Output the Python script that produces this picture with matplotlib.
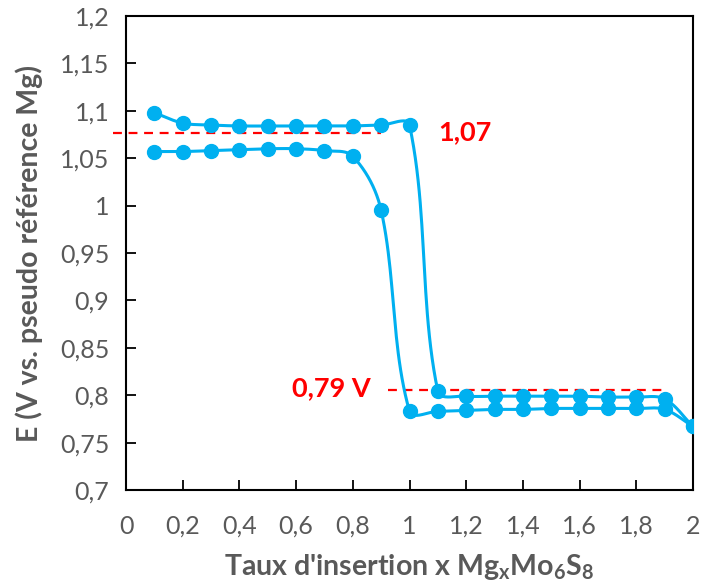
import numpy as np
import matplotlib.pyplot as plt

# lower branch (insertion), x = 0.1 .. 2.0
x_low = [0.1, 0.2, 0.3, 0.4, 0.5, 0.6, 0.7, 0.8, 0.9, 1.0,
         1.1, 1.2, 1.3, 1.4, 1.5, 1.6, 1.7, 1.8, 1.9, 2.0]
e_low = [1.057, 1.057, 1.058, 1.059, 1.060, 1.060, 1.058, 1.052, 0.995, 0.783,
         0.783, 0.784, 0.785, 0.785, 0.786, 0.786, 0.786, 0.786, 0.785, 0.767]

# upper branch (extraction), x = 0.1 .. 2.0
x_up = [0.1, 0.2, 0.3, 0.4, 0.5, 0.6, 0.7, 0.8, 0.9, 1.0,
        1.1, 1.2, 1.3, 1.4, 1.5, 1.6, 1.7, 1.8, 1.9, 2.0]
e_up = [1.098, 1.087, 1.085, 1.084, 1.084, 1.084, 1.084, 1.084, 1.085, 1.085,
        0.804, 0.799, 0.799, 0.799, 0.799, 0.799, 0.798, 0.798, 0.796, 0.767]

plateau_hi = 1.077
plateau_lo = 0.806

x_ticks = [0, 0.2, 0.4, 0.6, 0.8, 1, 1.2, 1.4, 1.6, 1.8, 2]
y_ticks = [0.7, 0.75, 0.8, 0.85, 0.9, 0.95, 1, 1.05, 1.1, 1.15, 1.2]

blue = '#00B0F0'
grey = '#595959'


def smooth(x, y, sx=283.5, sy=948.0, n=24):
    # Excel-like smoothed line: cubic Bezier, tangent along neighbours,
    # scaled by segment length in screen space (no big overshoot)
    p = np.column_stack([np.asarray(x) * sx, np.asarray(y) * sy])
    m = len(p)
    tang = np.zeros_like(p)
    for i in range(m):
        a = p[max(i - 1, 0)]
        b = p[min(i + 1, m - 1)]
        d = b - a
        tang[i] = d / np.hypot(*d)
    out = []
    t = np.linspace(0, 1, n, endpoint=False)[:, None]
    for i in range(m - 1):
        p1, p2 = p[i], p[i + 1]
        L = np.hypot(*(p2 - p1))
        c1 = p1 + tang[i] * L / 3
        c2 = p2 - tang[i + 1] * L / 3
        seg = ((1 - t) ** 3 * p1 + 3 * (1 - t) ** 2 * t * c1
               + 3 * (1 - t) * t ** 2 * c2 + t ** 3 * p2)
        out.append(seg)
    out.append(p[-1][None, :])
    out = np.vstack(out)
    return out[:, 0] / sx, out[:, 1] / sy


plt.rcParams['font.family'] = ['Lato', 'DejaVu Sans']

fig = plt.figure(figsize=(7.03, 5.81), dpi=100)
ax = fig.add_axes([126 / 703, 1 - 490 / 581, 567 / 703, 474 / 581])

for xs, ys in [(x_low, e_low), (x_up, e_up)]:
    cx, cy = smooth(xs, ys)
    ax.plot(cx, cy, color=blue, lw=2.2, zorder=3)
    ax.plot(xs, ys, 'o', color=blue, ms=10, zorder=4)

ax.plot([-0.046, 0.9], [plateau_hi, plateau_hi], color='#FF0000', lw=1.6,
        dashes=(4, 3), clip_on=False, zorder=2)
ax.plot([0.925, 1.91], [plateau_lo, plateau_lo], color='#FF0000', lw=1.6,
        dashes=(4, 3), zorder=2)
ax.text(1.1, plateau_hi + 0.001, '1,07', color='#FF0000', fontsize=19.5,
        fontweight='bold', ha='left', va='center')
ax.text(0.865, plateau_lo + 0.001, '0,79 V', color='#FF0000', fontsize=19.5,
        fontweight='bold', ha='right', va='center')

ax.set_xlim(0, 2)
ax.set_ylim(0.7, 1.2)
ax.set_xticks(x_ticks)
ax.set_yticks(y_ticks)
ax.set_xticklabels([f'{v:g}'.replace('.', ',') for v in x_ticks])
ax.set_yticklabels([f'{v:g}'.replace('.', ',') for v in y_ticks])
ax.tick_params(direction='in', length=7, width=1.3, colors='black',
               labelcolor=grey, labelsize=18)
ax.tick_params(axis='x', pad=18)
ax.tick_params(axis='y', pad=12)
for s in ax.spines.values():
    s.set_linewidth(1.5)

ax.set_xlabel(r"Taux d'insertion x Mg$_\mathregular{x}$Mo$_\mathregular{6}$S$_\mathregular{8}$",
              fontsize=20.5, fontweight='bold', color=grey, labelpad=10)
ax.set_ylabel('E (V vs. pseudo référence Mg)', fontsize=20.5, fontweight='bold',
              color=grey, labelpad=12)

fig.savefig('out.png', dpi=100)
